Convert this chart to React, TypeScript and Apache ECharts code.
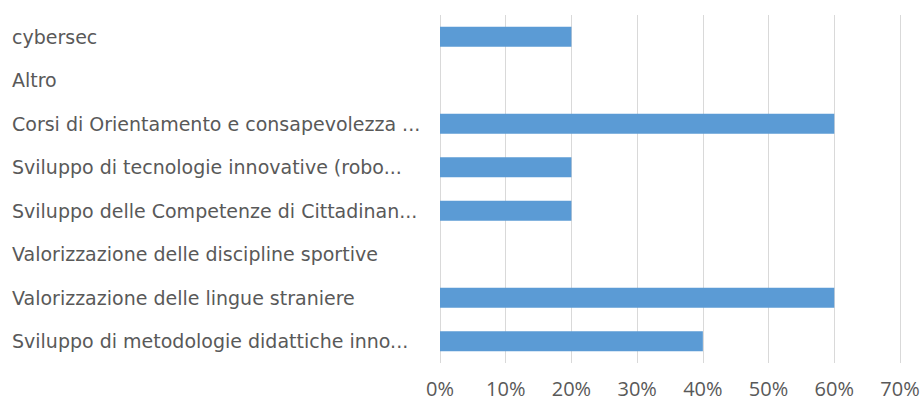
import React, { useEffect, useRef } from "react";
import * as echarts from "echarts";

const categories = [
  "cybersec",
  "Altro",
  "Corsi di Orientamento e consapevolezza ...",
  "Sviluppo di tecnologie innovative (robo...",
  "Sviluppo delle Competenze di Cittadinan...",
  "Valorizzazione delle discipline sportive",
  "Valorizzazione delle lingue straniere",
  "Sviluppo di metodologie didattiche inno...",
];
const values = [20, 0, 60, 20, 20, 0, 60, 40];

export default function App() {
  const ref = useRef<HTMLDivElement>(null);
  useEffect(() => {
    const chart = echarts.init(ref.current!, null, { renderer: "svg" });
    chart.setOption({
      animation: false,
      backgroundColor: "#ffffff",
      grid: { left: 440, right: 24, top: 15, bottom: 38, containLabel: false },
      xAxis: {
        type: "value",
        min: 0,
        max: 70,
        interval: 10,
        axisLine: { show: false },
        axisTick: { show: false },
        splitLine: { lineStyle: { color: "#d9d9d9", width: 1 } },
        axisLabel: {
          formatter: "{value}%",
          color: "#595959",
          fontFamily: "Open Sans",
          fontSize: 20,
          margin: 15,
        },
      },
      yAxis: {
        type: "category",
        data: categories,
        inverse: true,
        axisLine: { show: false },
        axisTick: { show: false },
        splitLine: { show: false },
        axisLabel: {
          align: "left",
          margin: 428,
          color: "#595959",
          fontFamily: "DejaVu Sans",
          fontSize: 19,
        },
      },
      series: [
        {
          type: "bar",
          data: values,
          barWidth: "46%",
          itemStyle: { color: "#5B9BD5" },
        },
      ],
    });
    return () => chart.dispose();
  }, []);
  return (
    <div
      ref={ref}
      style={{ position: "fixed", left: 0, top: 0, width: 924, height: 401 }}
    />
  );
}
